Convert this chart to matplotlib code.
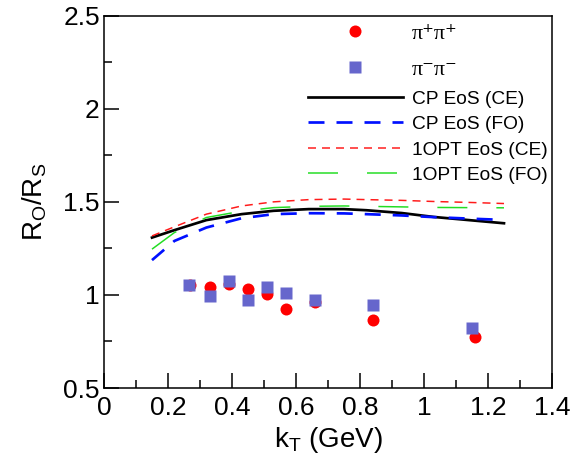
import matplotlib
matplotlib.use("Agg")
import matplotlib.pyplot as plt
from matplotlib.lines import Line2D

plt.rcParams['font.family'] = ['Liberation Sans', 'DejaVu Sans']
plt.rcParams['lines.scale_dashes'] = False

# data points
kt_pp = [0.27, 0.33, 0.39, 0.45, 0.51, 0.57, 0.66, 0.84, 1.16]
r_pp = [1.054, 1.045, 1.057, 1.034, 1.004, 0.923, 0.962, 0.864, 0.774]
kt_mm = [0.265, 0.33, 0.39, 0.45, 0.51, 0.57, 0.66, 0.84, 1.15]
r_mm = [1.054, 0.995, 1.075, 0.973, 1.043, 1.012, 0.973, 0.945, 0.824]

# model curves
kt_cp_ce = [0.15, 0.22, 0.32, 0.43, 0.53, 0.64, 0.75, 0.82, 0.93, 1.03, 1.14, 1.25]
r_cp_ce = [1.308, 1.348, 1.402, 1.434, 1.452, 1.461, 1.461, 1.455, 1.440, 1.419, 1.402, 1.385]
kt_cp_fo = [0.15, 0.22, 0.32, 0.43, 0.53, 0.64, 0.75, 0.82, 0.93, 1.03, 1.14, 1.25]
r_cp_fo = [1.187, 1.29, 1.362, 1.412, 1.434, 1.439, 1.438, 1.434, 1.427, 1.418, 1.41, 1.403]
kt_1o_ce = [0.15, 0.22, 0.32, 0.43, 0.53, 0.64, 0.75, 0.82, 0.93, 1.03, 1.14, 1.25]
r_1o_ce = [1.317, 1.366, 1.434, 1.478, 1.500, 1.512, 1.515, 1.512, 1.508, 1.502, 1.497, 1.491]
kt_1o_fo = [0.15, 0.22, 0.32, 0.43, 0.53, 0.64, 0.75, 0.82, 0.93, 1.03, 1.14, 1.25]
r_1o_fo = [1.246, 1.335, 1.416, 1.450, 1.469, 1.476, 1.478, 1.476, 1.473, 1.470, 1.469, 1.468]

xticks = [0, 0.2, 0.4, 0.6, 0.8, 1, 1.2, 1.4]
xticklabels = ['0', '0.2', '0.4', '0.6', '0.8', '1', '1.2', '1.4']
yticks = [0.5, 1, 1.5, 2, 2.5]
yticklabels = ['0.5', '1', '1.5', '2', '2.5']

fig = plt.figure(figsize=(5.83, 4.69), dpi=100)
ax = fig.add_axes([0.1784, 0.1727, 0.9468 - 0.1784, 0.9665 - 0.1727])

px = 0.72  # points per pixel
ax.plot(kt_cp_ce, r_cp_ce, color='black', lw=2.7 * px, label='CP EoS (CE)')
ax.plot(kt_cp_fo, r_cp_fo, color='#0010ff', lw=2.7 * px, dashes=(16 * px, 12 * px), label='CP EoS (FO)')
ax.plot(kt_1o_ce, r_1o_ce, color='#ff1a1a', lw=1.5 * px, dashes=(8 * px, 6 * px), label='1OPT EoS (CE)')
ax.plot(kt_1o_fo, r_1o_fo, color='#22dd22', lw=1.5 * px, dashes=(30 * px, 29 * px), label='1OPT EoS (FO)')

ax.plot(kt_pp, r_pp, 'o', color='#ff0000', ms=12 * px, mec='none', zorder=3)
ax.plot(kt_mm, r_mm, 's', color='#6666cc', ms=12.5 * px, mec='none', zorder=4)

ax.set_xlim(0, 1.4)
ax.set_ylim(0.5, 2.5)
ax.set_xticks(xticks)
ax.set_xticklabels(xticklabels)
ax.set_yticks(yticks)
ax.set_yticklabels(yticklabels)
ax.set_xticks([0.1, 0.3, 0.5, 0.7, 0.9, 1.1, 1.3], minor=True)
ax.set_yticks([0.75, 1.25, 1.75, 2.25], minor=True)
ax.tick_params(which='both', direction='in', top=False, right=False, labelsize=19, width=1.1)
ax.tick_params(which='major', length=11)
ax.tick_params(which='minor', length=6)
ax.tick_params(axis='x', pad=6)
ax.tick_params(axis='y', pad=3)
for s in ax.spines.values():
    s.set_linewidth(1.1)

ax.set_xlabel('k$_\\mathregular{T}$ (GeV)', fontsize=20, labelpad=3)
ax.set_ylabel('R$_\\mathregular{O}$/R$_\\mathregular{S}$', fontsize=20, labelpad=10)

# legend
h_pp = Line2D([], [], ls='none', marker='o', color='#ff0000', ms=12 * px, mec='none')
h_mm = Line2D([], [], ls='none', marker='s', color='#6666cc', ms=12.5 * px, mec='none')
lines = ax.get_lines()[:4]
fs1 = 16
fpx1 = fs1 / 0.72
leg1 = ax.legend([h_pp, h_mm], ['π⁺π⁺', 'π⁻π⁻'], loc='upper left',
                 bbox_to_anchor=(0.455, 0.980), frameon=False, borderpad=0, borderaxespad=0,
                 handlelength=95 / fpx1, handletextpad=9 / fpx1, labelspacing=0.69,
                 prop={'family': ['Liberation Serif', 'DejaVu Serif'], 'size': fs1})
ax.add_artist(leg1)
fs2 = 13.8
fpx2 = fs2 / 0.72
ax.legend(lines, [l.get_label() for l in lines], loc='upper left',
          bbox_to_anchor=(0.455, 0.800), frameon=False, borderpad=0, borderaxespad=0,
          handlelength=95 / fpx2, handletextpad=9 / fpx2, labelspacing=0.42, fontsize=fs2)

fig.savefig('out.png', dpi=100)
